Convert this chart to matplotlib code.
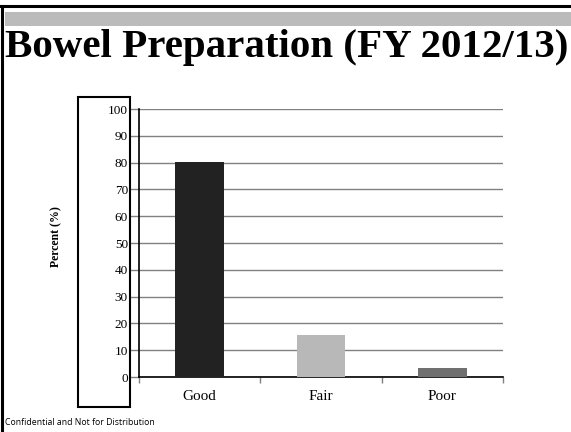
import matplotlib
matplotlib.use("Agg")
import matplotlib.pyplot as plt
from matplotlib.patches import Rectangle
from matplotlib.lines import Line2D

categories = ["Good", "Fair", "Poor"]
values = [80.3, 15.7, 3.4]
colors = ["#222222", "#B8B8B8", "#707070"]
yticks = [0, 10, 20, 30, 40, 50, 60, 70, 80, 90, 100]

W, H = 571, 432
fig = plt.figure(figsize=(W / 100, H / 100), dpi=100)
fig.patch.set_facecolor("white")

def fx(px):
    return px / W

def fy(py):
    return 1 - py / H

# page borders
fig.add_artist(Line2D([0, 1], [fy(6), fy(6)], color="black", lw=2.2, transform=fig.transFigure))
fig.add_artist(Line2D([fx(2), fx(2)], [0, fy(6)], color="black", lw=2.2, transform=fig.transFigure))
# gray band
fig.add_artist(Rectangle((fx(5), fy(26)), 1 - fx(5), (26 - 12) / H, facecolor="#BBBBBB",
                         edgecolor="none", transform=fig.transFigure))

fig.text(fx(5), fy(57), "Bowel Preparation (FY 2012/13)", family="Liberation Serif",
         fontweight="bold", fontsize=29.5, ha="left", va="baseline")

fig.text(fx(5), fy(425), "Confidential and Not for Distribution", family="Open Sans",
         fontsize=6.3, ha="left", va="baseline")

# y-label box
fig.add_artist(Rectangle((fx(78), fy(407)), (130 - 78) / W, (407 - 97) / H, facecolor="none",
                         edgecolor="black", lw=1.5, transform=fig.transFigure))

ax = fig.add_axes([fx(139), fy(377), fx(503) - fx(139), (377 - 109) / H])
x = list(range(len(categories)))
ax.bar(x, values, width=0.4, color=colors, zorder=3)
ax.set_xlim(-0.5, len(categories) - 0.5)
ax.set_ylim(0, 100)
ax.set_yticks(yticks)
ax.set_yticklabels([str(t) for t in yticks], family="Liberation Serif", fontsize=9.5)
ax.set_xticks(x)
ax.set_xticklabels(categories, family="Liberation Serif", fontsize=11)
ax.set_xticks([-0.5, 0.5, 1.5, 2.5], minor=True)
ax.tick_params(axis="x", which="major", length=0, pad=9)
ax.tick_params(axis="x", which="minor", length=4, color="#808080", width=1)
ax.tick_params(axis="y", length=7, color="#808080", width=1, pad=1)
ax.yaxis.grid(True, color="#808080", lw=1, zorder=0)
for s in ["top", "right"]:
    ax.spines[s].set_visible(False)
ax.spines["left"].set_color("black")
ax.spines["bottom"].set_color("black")
ax.spines["left"].set_linewidth(1.2)
ax.spines["bottom"].set_linewidth(1.2)

fig.text(fx(56), fy(237), "Percent (%)", family="Liberation Serif", fontweight="bold",
         fontsize=8.5, rotation=90, ha="center", va="center")

fig.savefig("out.png", dpi=100)
